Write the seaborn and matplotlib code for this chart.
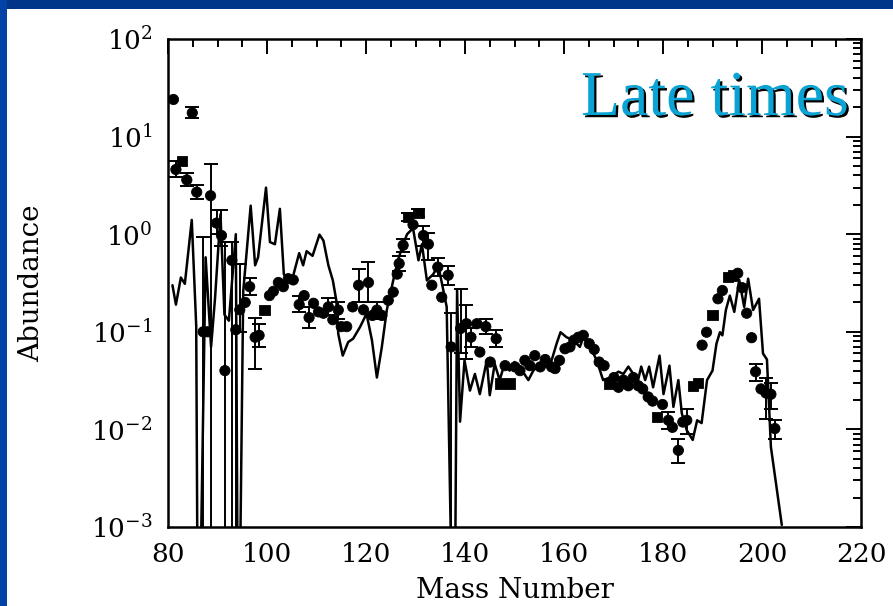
import numpy as np
import pandas as pd
import matplotlib
matplotlib.use("Agg")
import matplotlib.pyplot as plt
import seaborn as sns
from matplotlib.patches import Rectangle
import matplotlib.patheffects as pe
from matplotlib.ticker import MultipleLocator, LogLocator, FuncFormatter, NullFormatter

# ---------------- data ----------------
# model curve (1e-5 marks the places where the curve falls below the axis)
model_mass = [80.9, 81.6, 82.6, 83.4, 84.8, 85.7, 86.1, 87.6, 88.7, 89.5, 90.6, 91.4, 92.3,
              93.7, 94.2, 95.2, 96.7, 97.6, 98.2, 99.8, 100.6, 101.6, 102.6, 103.4, 104.3,
              105.3, 106.5, 107.3, 108.0, 109.2, 110.6, 111.4, 112.4, 113.3, 114.0, 114.4,
              115.3, 116.4, 117.4, 118.8, 120.1, 121.2, 122.2, 123.2, 124.2, 125.5, 126.5,
              127.5, 128.3, 129.5, 130.6, 131.3, 132.3, 133.6, 134.6, 136.3, 137.8, 138.4,
              139.0, 139.9, 141.0, 142.0, 143.0, 144.4, 145.0, 146.0, 147.0, 148.0, 149.0,
              150.0, 151.0, 152.8, 153.8, 155.2, 156.5, 157.5, 158.5, 159.3, 160.5, 161.9,
              163.2, 163.9, 165.3, 166.6, 167.9, 169.3, 171.0, 172.0, 173.0, 174.0, 174.7,
              175.6, 176.4, 177.2, 178.0, 179.3, 180.1, 181.3, 182.1, 183.1, 183.8, 184.8,
              186.0, 186.9, 187.8, 188.9, 190.0, 190.8, 191.5, 192.0, 192.7, 193.5, 194.4,
              195.4, 196.4, 197.2, 198.2, 199.4, 200.2, 201.0, 201.8, 204.0]
model_abund = [0.30, 0.19, 0.36, 0.31, 1.40, 0.115, 1e-5, 0.58, 0.07, 0.22, 1.6, 0.15, 0.13,
               1.0, 1e-5, 0.26, 1.96, 0.48, 0.58, 3.0, 0.83, 0.79, 1.82, 0.39, 0.336,
               0.377, 0.64, 0.48, 0.67, 0.60, 0.99, 0.86, 0.48, 0.336, 0.21, 0.095,
               0.057, 0.0785, 0.085, 0.112, 0.153, 0.082, 0.034, 0.07, 0.167, 0.336, 0.55,
               0.79, 1.0, 1.15, 0.54, 0.79, 0.336, 0.39, 0.48, 0.18, 1e-5, 0.27,
               0.012, 0.051, 0.025, 0.037, 0.023, 0.051, 0.0224, 0.047, 0.032, 0.047, 0.040,
               0.049, 0.044, 0.032, 0.040, 0.047, 0.044, 0.051, 0.0755, 0.099, 0.088, 0.082,
               0.070, 0.088, 0.070, 0.051, 0.032, 0.034, 0.039, 0.037, 0.044, 0.037, 0.028,
               0.044, 0.032, 0.044, 0.027, 0.057, 0.023, 0.045, 0.017, 0.032, 0.0146, 0.0098,
               0.0078, 0.0124, 0.0116, 0.032, 0.040, 0.0755, 0.099, 0.092, 0.167, 0.235, 0.16,
               0.34, 0.18, 0.35, 0.167, 0.218, 0.06, 0.052, 0.0066, 0.00105]

# measured abundances
pt_mass = [81.1, 81.6, 82.8, 83.8, 84.9, 85.8, 87.1, 88.0, 88.6, 89.8, 90.8, 91.5, 92.9,
           93.7, 94.5, 95.6, 96.5, 97.6, 98.4, 99.5, 100.5, 101.3, 102.3, 103.3, 104.3,
           105.3, 106.5, 107.5, 108.5, 109.4, 110.4, 111.4, 112.4, 113.3, 114.4, 115.0,
           116.1, 117.3, 118.5, 119.5, 120.5, 121.3, 122.2, 123.2, 124.5, 125.5, 126.3,
           126.7, 127.5, 128.5, 129.5, 130.6, 131.6, 132.6, 133.3, 134.5, 135.3, 136.6,
           137.2, 139.1, 140.3, 141.2, 142.4, 143.0, 144.2, 145.1, 146.3, 147.1, 148.1,
           149.1, 150.1, 151.1, 152.1, 153.1, 154.1, 155.2, 156.2, 157.5, 158.2, 159.1,
           160.2, 161.2, 162.0, 162.9, 163.9, 165.1, 166.1, 167.1, 168.1, 169.2, 170.1,
           171.0, 172.0, 173.0, 174.0, 175.0, 175.9, 177.0, 177.9, 178.8, 179.9, 181.1,
           181.9, 183.1, 184.0, 184.8, 186.1, 187.1, 187.9, 188.8, 190.0, 191.1, 192.0,
           193.1, 194.2, 195.1, 196.0, 196.9, 197.9, 198.7, 199.8, 200.8, 201.8, 202.6]
pt_abund = [24.0, 4.6, 5.6, 3.6, 17.5, 2.7, 0.10, 0.10, 2.48, 1.30, 0.97, 0.04, 0.54,
            0.105, 0.168, 0.20, 0.29, 0.088, 0.092, 0.168, 0.235, 0.26, 0.32, 0.29, 0.35,
            0.34, 0.19, 0.235, 0.14, 0.196, 0.16, 0.155, 0.18, 0.133, 0.167, 0.113,
            0.113, 0.18, 0.30, 0.168, 0.32, 0.147, 0.167, 0.147, 0.21, 0.255, 0.39,
            0.50, 0.77, 1.49, 1.25, 1.65, 0.97, 0.79, 0.30, 0.46, 0.226, 0.38,
            0.07, 0.108, 0.121, 0.088, 0.121, 0.062, 0.113, 0.049, 0.085, 0.0295, 0.045,
            0.0295, 0.0437, 0.040, 0.051, 0.045, 0.057, 0.0437, 0.052, 0.0437, 0.042, 0.051,
            0.067, 0.070, 0.082, 0.088, 0.092, 0.0755, 0.066, 0.049, 0.045, 0.0295, 0.034,
            0.027, 0.032, 0.028, 0.034, 0.028, 0.026, 0.0215, 0.0195, 0.0134, 0.018, 0.0124,
            0.0105, 0.0061, 0.0119, 0.0124, 0.028, 0.030, 0.073, 0.099, 0.149, 0.218, 0.265,
            0.363, 0.377, 0.398, 0.283, 0.155, 0.087, 0.039, 0.026, 0.0236, 0.0229, 0.0102]
pt_shape = ['o', 'o', 's', 'o', 'o', 'o', 'o', 'o', 'o', 'o', 'o', 'o', 'o',
            'o', 'o', 'o', 'o', 'o', 'o', 's', 'o', 'o', 'o', 'o', 'o',
            'o', 'o', 'o', 'o', 'o', 'o', 'o', 'o', 'o', 'o', 'o',
            'o', 'o', 'o', 'o', 'o', 'o', 'o', 'o', 'o', 'o', 'o',
            'o', 'o', 's', 'o', 's', 'o', 'o', 'o', 'o', 'o', 'o',
            'o', 'o', 'o', 'o', 'o', 'o', 'o', 'o', 'o', 's', 'o',
            's', 'o', 'o', 'o', 'o', 'o', 'o', 'o', 'o', 'o', 'o',
            'o', 'o', 'o', 'o', 'o', 'o', 'o', 'o', 'o', 's', 'o',
            'o', 'o', 'o', 'o', 'o', 'o', 'o', 'o', 's', 'o', 'o',
            'o', 'o', 'o', 'o', 's', 's', 'o', 'o', 's', 'o', 'o',
            's', 's', 'o', 'o', 'o', 'o', 'o', 'o', 'o', 'o', 'o']

# visible error bars (lower / upper ends; 1e-5 = below the axis)
err_mass = [81.6, 83.8, 84.9, 85.8, 87.1, 88.6, 89.8, 90.8, 91.5, 92.9, 93.7, 94.5, 96.5,
            97.6, 98.4, 106.5, 108.5, 112.4, 114.4, 118.5, 120.5, 122.2, 126.7, 127.5,
            128.5, 130.6, 131.6, 132.6, 134.5, 136.6, 137.2, 139.1, 140.3, 141.2, 144.2,
            146.3, 181.1, 183.1, 184.8, 198.7, 200.8, 201.8, 202.6]
err_val = [4.6, 3.6, 17.5, 2.7, 0.10, 2.48, 1.30, 0.97, 0.04, 0.54, 0.105, 0.168, 0.29,
           0.088, 0.092, 0.19, 0.14, 0.18, 0.167, 0.30, 0.32, 0.167, 0.50, 0.77,
           1.49, 1.65, 0.97, 0.79, 0.46, 0.38, 0.07, 0.108, 0.121, 0.088, 0.113,
           0.085, 0.0124, 0.0061, 0.0124, 0.039, 0.0236, 0.0229, 0.0102]
err_lo = [3.9, 3.1, 15.5, 2.3, 1e-5, 1e-5, 1.0, 0.75, 1e-5, 1e-5, 1e-5, 0.10, 0.24,
          0.042, 0.07, 0.16, 0.11, 0.15, 0.135, 0.20, 0.20, 0.135, 0.42, 0.66,
          1.35, 1.5, 0.75, 0.54, 0.37, 0.30, 1e-5, 0.06, 0.053, 0.07, 0.095,
          0.07, 0.010, 0.0045, 0.009, 0.031, 0.0128, 0.016, 0.008]
err_hi = [5.6, 4.2, 20.0, 3.2, 0.93, 5.3, 1.75, 1.75, 0.83, 0.83, 0.50, 0.50, 0.36,
          0.14, 0.12, 0.23, 0.18, 0.22, 0.20, 0.44, 0.52, 0.20, 0.60, 0.90,
          1.65, 1.82, 1.2, 1.04, 0.57, 0.47, 0.155, 0.275, 0.19, 0.11, 0.135,
          0.105, 0.015, 0.008, 0.016, 0.047, 0.034, 0.030, 0.0125]

x_ticks = [80, 100, 120, 140, 160, 180, 200, 220]
y_exponents = [-3, -2, -1, 0, 1, 2]
title_text = "Late times"
x_label = "Mass Number"
y_label = "Abundance"

# ---------------- styling ----------------
sns.set_theme(style="white")
plt.rcParams["font.family"] = ["DejaVu Serif"]
plt.rcParams["mathtext.fontset"] = "dejavuserif"

W, H = 893, 606
fig = plt.figure(figsize=(W / 100, H / 100), dpi=100)
fig.patch.set_facecolor("white")
fig.add_artist(Rectangle((0, 1 - 9 / H), 1, 9 / H, transform=fig.transFigure,
                         facecolor="#00358A", edgecolor="none", zorder=0))
fig.add_artist(Rectangle((0, 0), 7 / W, 1, transform=fig.transFigure,
                         facecolor="#0042A6", edgecolor="none", zorder=0))

left, right, top, bottom = 168, 861, 39, 527
ax = fig.add_axes([left / W, (H - bottom) / H, (right - left) / W, (bottom - top) / H])
ax.set_facecolor("white")
ax.set_yscale("log")
ax.set_xlim(80, 220)
ax.set_ylim(1e-3, 1e2)

# model curve
sns.lineplot(x=model_mass, y=model_abund, sort=False, estimator=None,
             color="black", linewidth=1.8, ax=ax, zorder=2)

# error bars
ev = np.array(err_val)
ax.errorbar(err_mass, ev, yerr=[ev - np.array(err_lo), np.array(err_hi) - ev],
            fmt="none", ecolor="black", elinewidth=1.4, capsize=5, capthick=1.4, zorder=3)

# data points
pts = pd.DataFrame({"mass": pt_mass, "abund": pt_abund, "shape": pt_shape})
sns.scatterplot(data=pts, x="mass", y="abund", style="shape",
                markers={"o": "o", "s": "s"}, color="black", edgecolor="black",
                s=55, legend=False, ax=ax, zorder=4)

# axes / ticks
for sp in ax.spines.values():
    sp.set_visible(True)
    sp.set_color("black")
    sp.set_linewidth(1.8)

ax.xaxis.set_major_locator(MultipleLocator(20))
ax.xaxis.set_minor_locator(MultipleLocator(5))
ax.set_xticks(x_ticks)
ax.yaxis.set_major_locator(LogLocator(base=10, numticks=10))
ax.yaxis.set_minor_locator(LogLocator(base=10, subs=np.arange(2, 10), numticks=20))
ax.yaxis.set_minor_formatter(NullFormatter())
ax.yaxis.set_major_formatter(FuncFormatter(lambda v, p: r"$10^{%d}$" % round(np.log10(v))))
ax.set_yticks([10.0 ** e for e in y_exponents])

ax.tick_params(which="both", direction="in", top=True, right=True,
               color="black", width=1.4)
ax.tick_params(which="major", length=11, labelsize=19, labelcolor="black")
ax.tick_params(which="minor", length=6)
ax.tick_params(axis="x", which="major", pad=11)
ax.tick_params(axis="y", which="major", pad=11)

ax.set_xlabel(x_label, fontsize=20, color="black", va="top")
ax.xaxis.set_label_coords(0.5, -0.103)
ax.set_ylabel(y_label, fontsize=20, color="black")
ax.yaxis.set_label_coords(-0.178, 0.5)

fig.text(581 / W, (H - 115) / H, title_text, fontsize=46, family="Liberation Serif",
         color="#0AA3D4", ha="left", va="baseline",
         path_effects=[pe.SimplePatchShadow(offset=(1.6, -1.6), shadow_rgbFace="black", alpha=1.0),
                       pe.Normal()])

fig.savefig("out.png", dpi=100, facecolor=fig.get_facecolor())
